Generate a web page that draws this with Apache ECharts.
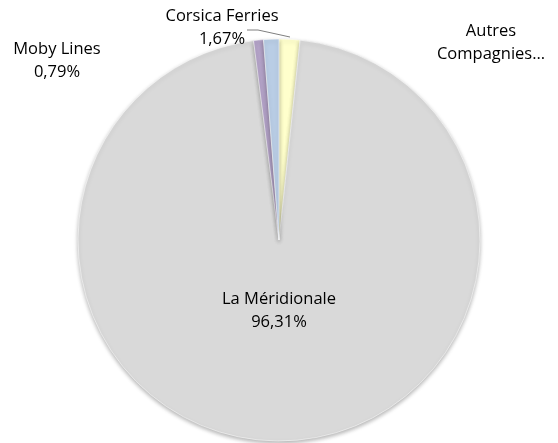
<!DOCTYPE html>
<html>
<head>
<meta charset="utf-8">
<script src="https://cdn.jsdelivr.net/npm/echarts@6/dist/echarts.min.js"></script>
<style>
  html, body { margin: 0; padding: 0; background: #fff; }
  #chart { width: 558px; height: 443px; }
</style>
</head>
<body>
<div id="chart"></div>
<script>
// parts du trafic (%), dans l'ordre horaire depuis 12h
const names = ['Corsica Ferries', 'La Méridionale', 'Moby Lines', 'Autres Compagnies…']
const values = [1.67, 96.31, 0.79, 1.23]
const colors = ['#ffffcc', '#d9d9d9', '#b3a2c7', '#b9cde5']

const chart = echarts.init(document.getElementById('chart'))

// positions des étiquettes (comme dans le graphique d'origine)
const labelPos = [
  { x: 222, y: 28 },
  { x: 279, y: 311 },
  { x: 57, y: 61 },
  { x: 491, y: 43 }
]

const fmt = v => v.toFixed(2).replace('.', ',') + '%'

const option = {
  animation: false,
  series: [
    {
      type: 'pie',
      center: [279, 240],
      radius: 201,
      startAngle: 90,
      clockwise: true,
      data: names.map((n, i) => ({
        name: n,
        value: values[i],
        itemStyle: { color: colors[i] }
      })),
      itemStyle: {
        borderColor: '#fff',
        borderWidth: 0.5,
        shadowBlur: 4,
        shadowOffsetY: 2,
        shadowColor: 'rgba(0,0,0,0.3)'
      },
      label: {
        show: true,
        position: 'outside',
        color: '#000',
        fontFamily: 'Open Sans',
        fontSize: 16.5,
        lineHeight: 23,
        align: 'center',
        formatter: p => {
          if (p.dataIndex === 3) return 'Autres\nCompagnies…'
          return p.name + '\n' + fmt(p.value)
        }
      },
      labelLine: { show: false },
      labelLayout: p => ({
        x: labelPos[p.dataIndex].x,
        y: labelPos[p.dataIndex].y,
        align: 'center',
        verticalAlign: 'middle'
      })
    }
  ],
  graphic: [
    {
      type: 'polyline',
      shape: { points: [[247, 30], [258, 30], [290, 37]] },
      style: { stroke: '#7f7f7f', lineWidth: 1, fill: null }
    }
  ]
}

chart.setOption(option)
</script>
</body>
</html>
